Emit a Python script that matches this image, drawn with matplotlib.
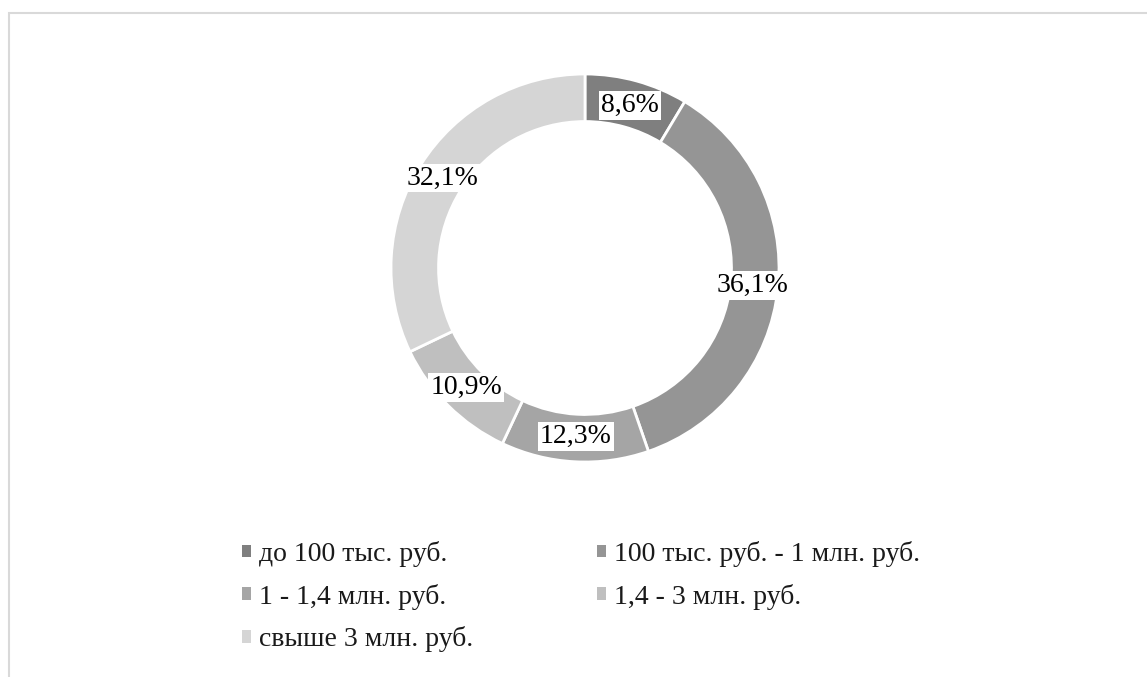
import matplotlib.pyplot as plt
from matplotlib.patches import Rectangle

categories = ["до 100 тыс. руб.", "100 тыс. руб. - 1 млн. руб.", "1 - 1,4 млн. руб.",
              "1,4 - 3 млн. руб.", "свыше 3 млн. руб."]
shares = [8.6, 36.1, 12.3, 10.9, 32.1]
colors = ["#7f7f7f", "#959595", "#a5a5a5", "#bfbfbf", "#d5d5d5"]

plt.rcParams['font.family'] = ['Liberation Serif', 'DejaVu Serif']

fig = plt.figure(figsize=(11.47, 6.77), dpi=100)
W, H = 1147, 677

# chart area frame
fig.patches.append(Rectangle((8.5 / W, -0.1), 1.2, (H - 12.5) / H + 0.1,
                             transform=fig.transFigure, fill=False,
                             edgecolor="#d9d9d9", linewidth=1.5))

cx, cy, r = 585, 268, 194
ax = fig.add_axes([(cx - r) / W, (H - cy - r) / H, 2 * r / W, 2 * r / H])
wedges, texts, autotexts = ax.pie(
    shares, colors=colors, startangle=90, counterclock=False, radius=1,
    wedgeprops=dict(width=0.245, edgecolor="white", linewidth=2),
    autopct=lambda p: ("%.1f%%" % p).replace(".", ","), pctdistance=0.87,
    textprops=dict(fontsize=20, color="black"))
for t in autotexts:
    t.set_bbox(dict(facecolor="white", edgecolor="none", pad=1.5))
ax.set_xlim(-1, 1)
ax.set_ylim(-1, 1)
ax.set_aspect("equal")
ax.axis("off")

# legend filled row by row
order = [0, 2, 4, 1, 3]
leg = fig.legend([wedges[i] for i in order], [categories[i] for i in order],
                 ncol=2, loc="upper left", bbox_to_anchor=(242 / W, 1 - 541 / H),
                 frameon=False, fontsize=20, handlelength=0.32, handleheight=0.32,
                 handletextpad=0.3, labelspacing=0.6, columnspacing=4.45,
                 borderpad=0, borderaxespad=0)
for t in leg.get_texts():
    t.set_color("#1a1a1a")
for h in leg.legend_handles:
    h.set_edgecolor("none")

fig.savefig("out.png", dpi=100)
